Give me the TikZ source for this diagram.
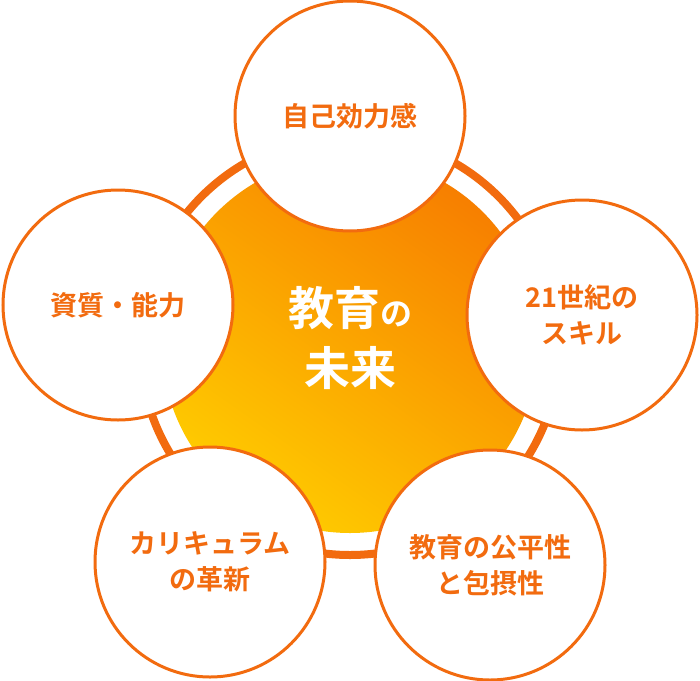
\documentclass[tikz,border=0pt]{standalone}
\usepackage{fontspec}
\setmainfont{Noto Sans CJK JP Bold}
\begin{document}
\begin{tikzpicture}[x=1pt,y=-1pt,
  small/.style={circle,draw=ocol,line width=3pt,fill=white,minimum size=230pt,inner sep=0pt,text=ocol,font=\fontsize{27}{36}\selectfont,align=center}]
\definecolor{ocol}{HTML}{F26B0F}
\definecolor{gtop}{HTML}{F77F00}
\definecolor{gbot}{HTML}{FFCC00}
\useasboundingbox (0,0) rectangle (700,680);
\coordinate (c) at (350,345);
\draw[ocol,line width=8pt] (c) circle[radius=210];
\shade[shading=axis,top color=gtop,bottom color=gbot,shading angle=-35] (c) circle[radius=188];
\node[text=white,align=center,font=\fontsize{46}{60}\selectfont] (t) at (350,338) {教育{\fontsize{32}{34}\selectfont の}\\未来};
\node[small] (a) at (350,116) {自己効力感};
\node[small] (b) at (582,315) {21世紀の\\スキル};
\node[small] (d) at (118,305) {資質・能力};
\node[small] (e) at (210,562) {カリキュラム\\の革新};
\node[small] (f) at (490,565) {教育の公平性\\と包摂性};
\end{tikzpicture}
\end{document}
